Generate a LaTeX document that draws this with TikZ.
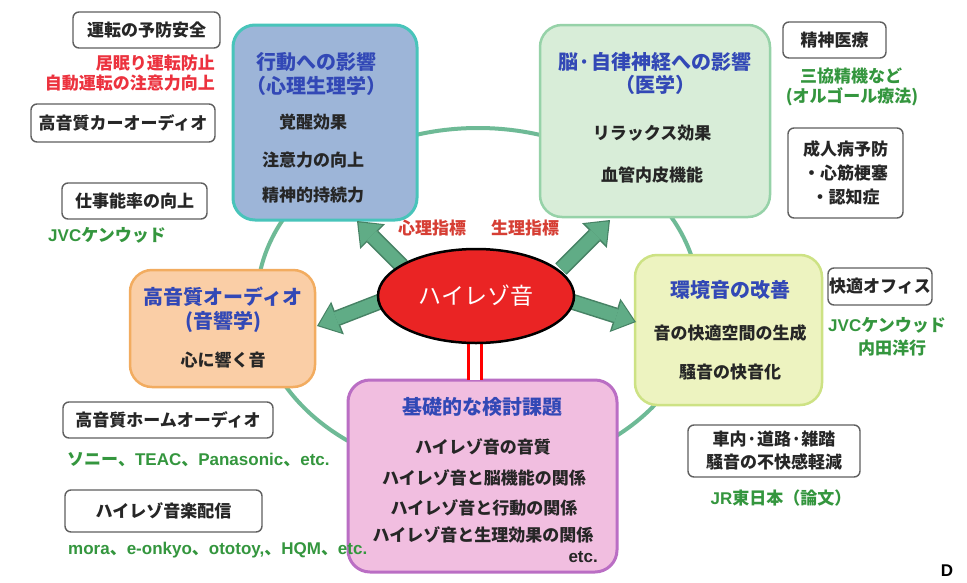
\documentclass[tikz,border=0pt]{standalone}
\usepackage{fontspec}
\setmainfont{Noto Sans CJK JP}
\newfontfamily\latinsans{Liberation Sans}
\usetikzlibrary{arrows.meta,shapes.geometric}
\definecolor{ringgreen}{RGB}{110,186,150}
\definecolor{arrowfill}{RGB}{96,172,134}
\definecolor{arrowdark}{RGB}{70,130,100}
\definecolor{bluefill}{RGB}{157,181,216}
\definecolor{blueedge}{RGB}{72,196,186}
\definecolor{greenfill}{RGB}{216,237,216}
\definecolor{greenedge}{RGB}{150,210,168}
\definecolor{orangefill}{RGB}{250,206,166}
\definecolor{orangeedge}{RGB}{242,172,96}
\definecolor{yellowfill}{RGB}{237,243,192}
\definecolor{yellowedge}{RGB}{205,226,132}
\definecolor{pinkfill}{RGB}{241,190,224}
\definecolor{pinkedge}{RGB}{186,110,196}
\definecolor{hrred}{RGB}{234,36,36}
\definecolor{titleblue}{RGB}{50,72,182}
\definecolor{textdark}{RGB}{38,38,38}
\definecolor{redtext}{RGB}{236,50,62}
\definecolor{idxred}{RGB}{214,62,52}
\definecolor{greentext}{RGB}{52,150,62}
\definecolor{boxgray}{RGB}{95,95,95}
\newcommand{\lat}[1]{{\latinsans #1}}
\begin{document}
\begin{tikzpicture}[x=1pt,y=-1pt,
  mainbox/.style={rectangle, rounded corners=22pt, line width=2.5pt, inner sep=0pt},
  bluebox/.style={mainbox, fill=bluefill, draw=blueedge, line width=3pt},
  greenbox/.style={mainbox, fill=greenfill, draw=greenedge},
  orangebox/.style={mainbox, fill=orangefill, draw=orangeedge},
  yellowbox/.style={mainbox, fill=yellowfill, draw=yellowedge},
  pinkbox/.style={mainbox, fill=pinkfill, draw=pinkedge, line width=3pt},
  outbox/.style={rectangle, rounded corners=6pt, draw=boxgray, line width=1.4pt, fill=white, inner sep=0pt, align=center, text=textdark, font=\fontsize{17pt}{24pt}\selectfont\bfseries},
  titletxt/.style={inner sep=0pt, text=titleblue, font=\fontsize{20pt}{24pt}\selectfont\bfseries},
  itemtxt/.style={inner sep=0pt, text=textdark, font=\fontsize{17pt}{20pt}\selectfont\bfseries},
  greentxt/.style={inner sep=0pt, text=greentext, font=\fontsize{17pt}{20pt}\selectfont\bfseries},
  redtxt/.style={inner sep=0pt, text=redtext, font=\fontsize{17pt}{20pt}\selectfont\bfseries},
  idxtxt/.style={inner sep=0pt, text=idxred, font=\fontsize{17pt}{20pt}\selectfont\bfseries},
  ringline/.style={draw=ringgreen, line width=4pt},
  arrowouter/.style={draw=arrowdark, line width=16pt, -{Triangle[length=22pt,width=35pt,line width=0pt]}},
  arrowinner/.style={draw=arrowfill, line width=13pt, shorten >=2pt, -{Triangle[length=18.5pt,width=30pt,line width=0pt]}},
  hrlink/.style={draw=red, line width=3pt, double=white, double distance=10pt}
]
\useasboundingbox (0,0) rectangle (967,582);
\fill[white] (0,0) rectangle (967,582);

% ring
\coordinate (ringc) at (478,301);
\draw[ringline] (ringc) ellipse [x radius=221, y radius=173];

% main boxes
\node[bluebox, minimum width=184pt, minimum height=195pt] (psy) at (325,122.5) {};
\node[greenbox, minimum width=230pt, minimum height=192pt] (med) at (655,121) {};
\node[orangebox, minimum width=185pt, minimum height=117pt] (aud) at (222.5,328.5) {};
\node[yellowbox, minimum width=187pt, minimum height=150pt] (env) at (728.5,330) {};
\node[pinkbox, minimum width=269pt, minimum height=192pt] (base) at (482.5,476) {};

% box texts
\node[titletxt] (psyt1) at (316,62) {行動への影響};
\node[titletxt] (psyt2) at (316,86) {（心理生理学）};
\node[itemtxt] (psyi1) at (313,122) {覚醒効果};
\node[itemtxt] (psyi2) at (313,160) {注意力の向上};
\node[itemtxt] (psyi3) at (313,195) {精神的持続力};

\node[titletxt] (medt1) at (655,62) {脳·自律神経への影響};
\node[titletxt] (medt2) at (655,85) {（医学）};
\node[itemtxt] (medi1) at (652,133) {リラックス効果};
\node[itemtxt] (medi2) at (652,175) {血管内皮機能};

\node[titletxt] (audt1) at (223,297) {高音質オーディオ};
\node[titletxt] (audt2) at (223,322) {(音響学)};
\node[itemtxt] (audi1) at (223,360) {心に響く音};

\node[titletxt] (envt1) at (730,290) {環境音の改善};
\node[itemtxt] (envi1) at (730,333) {音の快適空間の生成};
\node[itemtxt] (envi2) at (730,372) {騒音の快音化};

\node[titletxt] (baset1) at (482,407) {基礎的な検討課題};
\node[itemtxt] (basei1) at (483,447) {ハイレゾ音の音質};
\node[itemtxt] (basei2) at (484,478) {ハイレゾ音と脳機能の関係};
\node[itemtxt] (basei3) at (484,508) {ハイレゾ音と行動の関係};
\node[itemtxt] (basei4) at (483,535) {ハイレゾ音と生理効果の関係};
\node[itemtxt, anchor=east] (basei5) at (598,557) {\lat{etc.}};

% arrows
\coordinate (a1s) at (402,266); \coordinate (a1e) at (357,221);
\coordinate (a2s) at (561,269); \coordinate (a2e) at (610,220);
\coordinate (a3s) at (384,300); \coordinate (a3e) at (317,326);
\coordinate (a4s) at (570,301); \coordinate (a4e) at (636,322);
\foreach \s/\e in {a1s/a1e,a2s/a2e,a3s/a3e,a4s/a4e}{
  \draw[arrowouter] (\s) -- (\e);
  \draw[arrowinner] (\s) -- (\e);
}

% link to base
\coordinate (ls) at (474.5,336);
\coordinate (le) at (474.5,380);
\draw[hrlink] (ls) -- (le);

% central ellipse
\node[ellipse, draw=black, line width=2.5pt, fill=hrred, minimum width=196pt, minimum height=94pt, inner sep=0pt, text=white, font=\fontsize{23pt}{24pt}\selectfont] (hr) at (476,296) {ハイレゾ音};

\node[idxtxt] (idx1) at (432,228) {心理指標};
\node[idxtxt] (idx2) at (525,228) {生理指標};

% outer boxes left
\node[outbox, minimum width=147pt, minimum height=36pt] (ob1) at (146.5,30) {運転の予防安全};
\node[redtxt, anchor=east] (r1) at (215,63) {居眠り運転防止};
\node[redtxt, anchor=east] (r2) at (215,83) {自動運転の注意力向上};
\node[outbox, minimum width=184pt, minimum height=38pt] (ob2) at (123,123) {高音質カーオーディオ};
\node[outbox, minimum width=145pt, minimum height=36pt] (ob3) at (134.5,201) {仕事能率の向上};
\node[greentxt] (g1) at (107,235) {\lat{JVC}ケンウッド};

\node[outbox, minimum width=210pt, minimum height=36pt] (ob8) at (168,420) {高音質ホームオーディオ};
\node[greentxt, anchor=west] (g2) at (67,460) {ソニー、\lat{TEAC}、\lat{Panasonic}、\lat{etc.}};
\node[outbox, minimum width=197pt, minimum height=42pt] (ob9) at (163.5,511) {ハイレゾ音楽配信};
\node[greentxt, anchor=west] (g3) at (68,550) {\lat{mora}、\lat{e-onkyo}、\lat{ototoy,}、\lat{HQM}、\lat{etc.}};

% outer boxes right
\node[outbox, minimum width=103pt, minimum height=36pt] (ob4) at (834.5,40) {精神医療};
\node[greentxt] (g4) at (851,76) {三協精機など};
\node[greentxt] (g5) at (852,97) {(オルゴール療法)};
\node[outbox, minimum width=115pt, minimum height=90pt] (ob5) at (845.5,173) {成人病予防\\・心筋梗塞\\・認知症};
\node[outbox, minimum width=104pt, minimum height=37pt] (ob6) at (880,286.5) {快適オフィス};
\node[greentxt] (g6) at (887,325) {\lat{JVC}ケンウッド};
\node[greentxt] (g7) at (892,348) {内田洋行};
\node[outbox, minimum width=172pt, minimum height=52pt, font=\fontsize{17pt}{23pt}\selectfont\bfseries] (ob7) at (774,451) {車内·道路·雑踏\\騒音の不快感軽減};
\node[greentxt] (g8) at (781,498) {\lat{JR}東日本（論文）};

\node[inner sep=0pt, font=\fontsize{17pt}{20pt}\selectfont\latinsans\bfseries, text=black] (dlab) at (947,571) {D};
\end{tikzpicture}
\end{document}
